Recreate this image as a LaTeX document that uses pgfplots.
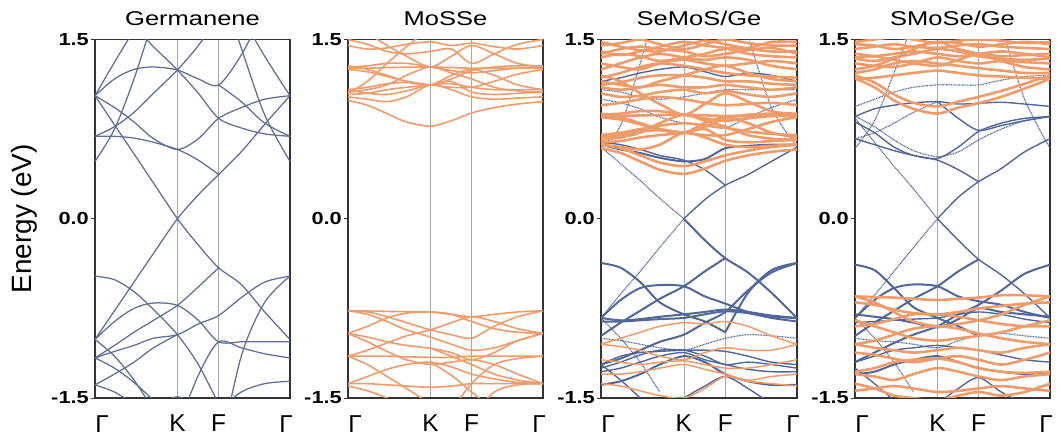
\documentclass[border=0pt]{standalone}
\usepackage{pgfplots}
\pgfplotsset{compat=1.18}
\usepackage{fontspec}
\setmainfont{Liberation Sans}
\newfontfamily\titlefont{Liberation Sans}[FakeStretch=1.28]
\newfontfamily\tickfont{Liberation Sans}[FakeStretch=1.25]
\definecolor{gblue}{RGB}{92,110,152}
\definecolor{hblue}{RGB}{80,103,155}
\definecolor{orng}{RGB}{240,155,106}

\ExplSyntaxOn
\clist_const:Nn \c_band_t_clist {0,0.1,0.2,0.3,0.4226,0.53,0.634,0.75,0.87,1}
\seq_new:N \l_band_t_seq
\seq_new:N \l_band_v_seq
\tl_new:N \l_band_coords_tl
\seq_set_from_clist:NN \l_band_t_seq \c_band_t_clist
\cs_new_protected:Npn \band_pair:nn #1#2 { \tl_put_right:Nn \l_band_coords_tl {(#1,#2)} }
\cs_new_protected:Npn \band_plot:nn #1#2 { \addplot[#1]~coordinates~{#2}; }
\cs_generate_variant:Nn \band_plot:nn {nV}
\NewDocumentCommand\band{mm}{
  \tl_clear:N \l_band_coords_tl
  \seq_set_from_clist:Nn \l_band_v_seq {#2}
  \seq_mapthread_function:NNN \l_band_t_seq \l_band_v_seq \band_pair:nn
  \band_plot:nV {#1} \l_band_coords_tl
}
\ExplSyntaxOff

\pgfplotsset{
  bandaxis/.style={
    anchor=south west, scale only axis, width=195bp, height=358.5bp,
    xmin=0, xmax=1, ymin=-1.5, ymax=1.5,
    axis line style={draw=black!80, line width=1.3pt},
    xtick={0,0.4226,0.634,1},
    xticklabels={\hspace*{14bp}Γ,K,F,Γ\hspace*{8bp}},
    xmajorgrids, major x grid style={line width=0.6pt, black!35},
    xtick style={draw=none},
    ytick={-1.5,0,1.5}, yticklabels={-1.5,0.0,1.5},
    ytick style={draw=black!80, line width=1pt},
    tick align=outside, tick pos=left, major tick length=4bp,
    yticklabel style={font=\tickfont\bfseries\fontsize{17.5}{19}\selectfont, inner sep=0pt, anchor=east, xshift=-2bp},
    xticklabel style={font=\fontsize{24.5}{26}\selectfont, inner sep=0pt, anchor=north, yshift=-13bp},
    title style={at={(axis description cs:0.5,1)}, anchor=base, yshift=8bp, font=\titlefont\fontsize{20}{22}\selectfont},
    ylabel style={at={(axis description cs:-0.364,0.5)}, anchor=center, font=\fontsize{28}{30}\selectfont},
    unbounded coords=jump, clip=true,
  },
  gb/.style={gblue, line width=1.25bp, smooth},
  ob/.style={orng, line width=1.6bp, smooth},
  bt/.style={hblue, line width=2bp, smooth},
  bm/.style={hblue, line width=1.4bp, smooth},
  bd/.style={hblue, line width=1.2bp, smooth, dash pattern=on 0.9bp off 0.7bp},
  ot/.style={orng, line width=2.6bp, smooth},
  om/.style={orng, line width=1.5bp, smooth},
}

\begin{document}
\begin{tikzpicture}
\useasboundingbox (0,0) rectangle (1060bp,443bp);
% ---------------- Germanene ----------------
\begin{axis}[bandaxis, at={(95bp,45bp)}, title={Germanene}, ylabel={Energy (eV)}]
\band{gb}{1.03,0.786,0.543,0.299,0,-0.22,-0.41,-0.55,-0.78,-1.01}
\band{gb}{-1.01,-0.77,-0.53,-0.29,0,0.2,0.37,0.56,0.79,1.03}
\band{gb}{0.69,0.69,0.675,0.64,0.58,0.49,0.37,nan,nan,nan}
\band{gb}{1.03,0.93,0.81,0.67,0.58,0.67,0.84,0.93,1.0,1.03}
\band{gb}{0.69,0.77,0.89,1.05,1.245,1.45,1.7,nan,nan,nan}
\band{gb}{1.03,1.17,1.25,1.27,1.245,1.17,1.12,1.37,1.75,nan}
\band{gb}{nan,nan,1.61,1.44,1.245,1.05,0.84,0.76,0.71,0.69}
\band{gb}{1.03,1.31,1.58,nan,nan,nan,nan,nan,nan,nan}
\band{gb}{0.48,0.75,1.17,1.68,nan,nan,nan,nan,nan,nan}
\band{gb}{nan,nan,nan,nan,nan,nan,2.0,1.43,0.87,0.48}
\band{gb}{nan,nan,nan,nan,nan,nan,1.12,0.98,0.8,0.69}
\band{gb}{nan,nan,nan,nan,nan,nan,nan,1.7,1.36,1.03}
\band{gb}{-0.48,-0.51,-0.61,-0.76,-0.97,-1.22,-1.55,nan,nan,nan}
\band{gb}{-1.01,-0.86,-0.75,-0.705,-0.725,-0.85,-1.03,-1.03,-1.03,-1.03}
\band{gb}{-1.165,-1.11,-1.06,-1.0,-0.97,-0.88,-0.81,-0.66,-0.53,-0.48}
\band{gb}{-1.165,-1.06,-0.95,-0.85,-0.725,-0.57,-0.41,nan,nan,nan}
\band{gb}{nan,nan,nan,nan,nan,nan,-2.0,-1.15,-0.7,-0.48}
\band{gb}{-1.39,-1.3,-1.2,-1.08,-0.97,nan,nan,nan,nan,nan}
\band{gb}{-1.165,-1.25,-1.37,-1.52,nan,nan,nan,nan,nan,nan}
\band{gb}{-1.39,-1.45,-1.55,nan,nan,nan,nan,nan,nan,nan}
\band{gb}{nan,nan,nan,nan,-1.75,-1.31,-1.03,-1.08,-1.13,-1.165}
\band{gb}{nan,nan,nan,nan,nan,nan,-1.6,-1.45,-1.38,-1.36}
\band{gb}{nan,-1.95,-1.75,-1.6,-1.49,-1.6,-1.8,nan,nan,nan}
\band{gb}{-1.01,-1.15,-1.35,-1.6,nan,nan,nan,nan,nan,nan}
\end{axis}
% ---------------- MoSSe ----------------
\begin{axis}[bandaxis, at={(348bp,45bp)}, title={MoSSe}]
\band{ob}{0.99,0.95,0.88,0.81,0.775,0.82,0.885,0.93,0.96,0.98}
\band{ob}{1.02,1.0,0.98,1.02,1.12,1.08,1.02,1.0,1.01,1.02}
\band{ob}{1.04,1.05,1.08,1.1,1.12,1.15,1.06,1.04,1.05,1.06}
\band{ob}{1.06,1.08,1.12,1.2,1.27,1.22,1.17,1.1,1.07,1.06}
\band{ob}{1.08,1.1,1.13,1.14,1.12,1.2,1.25,1.2,1.12,1.08}
\band{ob}{1.25,1.23,1.19,1.15,1.12,1.1,1.1,1.15,1.21,1.25}
\band{ob}{1.26,1.26,1.265,1.268,1.27,1.265,1.26,1.26,1.26,1.26}
\band{ob}{1.27,1.28,1.3,1.3,1.27,1.24,1.22,1.24,1.26,1.27}
\band{ob}{1.28,1.25,1.2,1.15,1.12,1.17,1.24,1.27,1.28,1.28}
\band{ob}{1.05,1.15,1.3,1.44,1.6,nan,nan,nan,nan,nan}
\band{ob}{1.45,1.42,1.43,1.46,1.48,1.45,1.47,1.44,1.42,1.45}
\band{ob}{1.6,1.55,1.45,1.36,1.27,1.36,1.45,1.38,1.3,1.27}
\band{ob}{1.5,1.46,1.4,1.38,1.4,1.42,1.3,1.38,1.46,1.5}
\band{ob}{1.08,1.05,1.04,1.07,1.12,1.13,1.1,1.08,1.08,1.08}
\band{ob}{-0.77,-0.772,-0.775,-0.778,-0.78,-0.8,-0.82,-0.8,-0.78,-0.77}
\band{ob}{-0.96,-0.9,-0.83,-0.79,-0.78,-0.8,-0.86,-0.92,-0.95,-0.96}
\band{ob}{-0.77,-0.8,-0.86,-0.93,-0.99,-1.05,-1.1,-1.08,-1.02,-0.96}
\band{ob}{-0.96,-0.99,-1.03,-1.06,-1.084,-1.12,-1.18,-1.12,-1.02,-0.96}
\band{ob}{-0.96,-1.03,-1.11,-1.18,-1.22,-1.2,-1.18,-1.22,-1.3,-1.38}
\band{ob}{-1.15,-1.15,-1.15,-1.155,-1.16,-1.16,-1.15,-1.15,-1.15,-1.15}
\band{ob}{-1.15,-1.1,-1.04,-0.98,-0.93,-0.87,-0.82,-0.86,-0.92,-0.96}
\band{ob}{-1.38,-1.32,-1.26,-1.22,-1.2,-1.24,-1.3,-1.34,-1.37,-1.38}
\band{ob}{-1.38,-1.38,-1.39,-1.4,-1.41,-1.4,-1.38,-1.38,-1.38,-1.38}
\band{ob}{-1.4,-1.44,-1.5,-1.58,nan,nan,nan,nan,nan,nan}
\band{ob}{nan,nan,nan,nan,-1.2,-1.31,-1.45,-1.6,nan,nan}
\band{ob}{-1.15,-1.22,-1.32,-1.42,-1.55,nan,nan,nan,nan,nan}
\band{ob}{nan,nan,nan,nan,nan,-1.6,-1.38,-1.22,-1.17,-1.15}
\band{ob}{nan,nan,nan,nan,nan,nan,-1.65,-1.45,-1.39,-1.38}
\band{ob}{nan,nan,nan,nan,-1.084,-1.15,-1.22,-1.3,-1.35,-1.38}
\band{ob}{-0.77,-0.78,-0.82,-0.87,-0.93,-0.97,-1.0,-0.9,-0.82,-0.77}
\end{axis}
% ---------------- SeMoS/Ge ----------------
\begin{axis}[bandaxis, at={(601bp,45bp)}, width=196bp, title={SeMoS/Ge}]
% blue conduction
\band{bd}{0.6,0.46,0.32,0.17,0,nan,nan,nan,nan,nan}
\band{bt}{nan,nan,nan,nan,0,-0.18,-0.33,-0.45,-0.62,-0.83}
\band{bd}{-0.83,-0.63,-0.44,-0.24,0,nan,nan,nan,nan,nan}
\band{bm}{nan,nan,nan,nan,0,0.16,0.28,0.37,0.48,0.6}
\band{bt}{0.62,0.58,0.55,0.51,0.48,0.5,0.59,0.61,0.62,0.62}
\band{bm}{0.64,0.62,0.58,0.53,0.49,0.41,0.28,nan,nan,nan}
\band{bd}{0.6,0.78,1.3,1.9,nan,nan,nan,nan,nan,nan}
\band{bd}{nan,nan,nan,nan,nan,nan,2.1,1.53,0.93,0.6}
\band{bm}{1.15,1.18,1.22,1.25,1.27,1.23,1.19,1.22,1.2,1.15}
\band{bd}{1.0,0.97,0.92,0.85,0.8,0.78,0.76,0.85,0.93,1.0}
\band{bd}{1.08,1.06,1.02,1.0,1.02,1.05,1.08,1.08,1.08,1.08}
% blue valence
\band{bt}{-0.37,-0.41,-0.53,-0.7,-0.8,-0.86,-0.95,nan,nan,nan}
\band{bt}{-1.22,-1.17,-1.1,-1.03,-0.97,-0.87,-0.78,-0.6,-0.45,-0.37}
\band{bt}{-0.83,-0.68,-0.58,-0.555,-0.565,-0.65,-0.71,-0.78,-0.82,-0.83}
\band{bt}{-0.98,-0.87,-0.77,-0.67,-0.565,-0.44,-0.33,nan,nan,nan}
\band{bt}{-0.83,-0.85,-0.84,-0.82,-0.8,-0.78,-0.76,-0.78,-0.81,-0.83}
\band{bt}{-0.86,-0.86,-0.85,-0.84,-0.83,-0.8,-0.775,-0.79,-0.83,-0.86}
\band{bm}{-1.22,-1.15,-1.12,-1.11,-1.1,-1.1,-1.11,-1.15,-1.2,-1.22}
\band{bm}{-1.28,-1.25,-1.2,-1.15,-1.12,-1.18,-1.22,-1.26,-1.28,-1.28}
\band{bt}{-1.39,-1.36,-1.3,-1.22,-1.15,-1.2,-1.3,-1.36,-1.39,-1.39}
\band{bm}{nan,nan,nan,nan,-1.5,-1.4,-1.32,-1.42,-1.55,nan}
\band{bd}{-0.83,-1.0,-1.2,-1.45,nan,nan,nan,nan,nan,nan}
\band{bm}{-1.22,-1.35,-1.5,nan,nan,nan,nan,nan,nan,nan}
\band{bt}{nan,nan,nan,nan,nan,nan,-0.95,-0.62,-0.43,-0.37}
\band{bd}{-1.0,-1.02,-1.05,-1.08,-1.1,-1.05,-1.0,-0.97,-0.98,-1.0}
\band{bm}{-1.25,-1.2,-1.14,-1.1,-1.1,-1.15,-1.22,-1.2,-1.22,-1.25}
% orange conduction
\band{ot}{0.59,0.55,0.48,0.41,0.375,0.42,0.485,0.53,0.56,0.58}
\band{ot}{0.62,0.59,0.53,0.47,0.44,0.48,0.53,0.57,0.6,0.62}
\band{ot}{0.62,0.6,0.58,0.62,0.72,0.68,0.62,0.6,0.61,0.62}
\band{ot}{0.64,0.65,0.68,0.7,0.72,0.75,0.66,0.64,0.65,0.66}
\band{ot}{0.66,0.68,0.72,0.8,0.87,0.82,0.77,0.7,0.67,0.66}
\band{ot}{0.68,0.7,0.73,0.74,0.72,0.8,0.85,0.8,0.72,0.68}
\band{ot}{0.85,0.83,0.79,0.75,0.72,0.7,0.7,0.75,0.81,0.85}
\band{ot}{0.86,0.86,0.865,0.868,0.87,0.865,0.86,0.86,0.86,0.86}
\band{ot}{0.87,0.88,0.9,0.9,0.87,0.84,0.82,0.84,0.86,0.87}
\band{ot}{0.88,0.85,0.8,0.75,0.72,0.77,0.84,0.87,0.88,0.88}
\band{ot}{1.05,1.02,1.03,1.06,1.08,1.05,1.07,1.04,1.02,1.05}
\band{ot}{1.2,1.15,1.05,0.96,0.87,0.96,1.05,0.98,0.9,0.87}
\band{ot}{1.12,1.14,1.18,1.2,1.2,1.18,1.15,1.15,1.13,1.12}
\band{ot}{1.15,1.12,1.1,1.15,1.2,1.25,1.28,1.22,1.17,1.15}
\band{ot}{1.3,1.27,1.25,1.3,1.33,1.3,1.28,1.3,1.32,1.3}
\band{ot}{1.35,1.38,1.36,1.32,1.35,1.38,1.42,1.38,1.36,1.35}
\band{ot}{1.4,1.37,1.4,1.44,1.48,1.45,1.43,1.42,1.4,1.4}
\band{ot}{1.45,1.47,1.5,1.46,1.42,1.46,1.5,1.47,1.45,1.45}
\band{ot}{1.25,1.3,1.35,1.38,1.35,1.33,1.35,1.33,1.28,1.25}
\band{ot}{1.1,1.08,1.1,1.12,1.1,1.1,1.12,1.1,1.08,1.1}
\band{ot}{1.18,1.22,1.27,1.3,1.28,1.25,1.22,1.2,1.19,1.18}
\band{ot}{1.38,1.42,1.44,1.42,1.4,1.36,1.38,1.41,1.43,1.38}
\band{ot}{1.48,1.44,1.41,1.4,1.45,1.49,1.46,1.43,1.48,1.48}
\band{ot}{0.95,0.97,1.0,1.02,1.0,0.97,0.95,0.96,0.97,0.95}
\band{ot}{0.7,0.72,0.75,0.78,0.8,0.78,0.76,0.73,0.71,0.7}
% orange valence
\band{om}{-1.05,-1.0,-0.95,-0.9,-0.87,-0.88,-0.86,-0.9,-0.98,-1.05}
\band{om}{-1.05,-1.07,-1.1,-1.15,-1.18,-1.12,-1.08,-1.1,-1.1,-1.05}
\band{om}{-1.18,-1.2,-1.22,-1.2,-1.19,-1.22,-1.25,-1.25,-1.22,-1.18}
\band{om}{-1.38,-1.4,-1.44,-1.48,-1.5,-1.42,-1.32,-1.36,-1.38,-1.4}
\band{om}{-1.3,-1.3,-1.28,-1.25,-1.22,-1.26,-1.3,-1.35,-1.32,-1.3}
\end{axis}
% ---------------- SMoSe/Ge ----------------
\begin{axis}[bandaxis, at={(855bp,45bp)}, title={SMoSe/Ge}]
% blue conduction
\band{bd}{0.84,0.64,0.44,0.25,0,nan,nan,nan,nan,nan}
\band{bm}{nan,nan,nan,nan,0,0.18,0.31,0.42,0.56,0.67}
\band{bm}{0.81,0.72,0.6,0.53,0.505,0.6,0.73,0.8,0.84,0.855}
\band{bm}{0.67,0.62,0.57,0.53,0.49,0.41,0.31,nan,nan,nan}
\band{bd}{0.86,0.77,0.66,0.57,0.52,0.56,0.66,0.75,0.82,0.86}
\band{bm}{0.855,0.92,0.95,0.97,0.98,0.96,0.966,0.975,0.96,0.94}
\band{bm}{nan,nan,nan,nan,0.98,0.84,0.74,0.78,0.82,0.855}
\band{bd}{0.67,0.72,0.8,0.89,0.98,nan,nan,nan,nan,nan}
\band{bd}{0.94,1.0,1.06,1.1,1.12,1.12,1.12,1.16,1.19,1.2}
\band{bd}{0.59,0.82,1.22,1.65,nan,nan,nan,nan,nan,nan}
\band{bd}{nan,nan,nan,nan,nan,nan,2.1,1.6,1.0,0.59}
% blue valence
\band{bd}{-0.83,-0.64,-0.44,-0.24,0,nan,nan,nan,nan,nan}
\band{bm}{nan,nan,nan,nan,0,-0.18,-0.34,-0.47,-0.63,-0.83}
\band{bt}{-0.385,-0.43,-0.58,-0.74,-0.83,-0.9,-0.98,nan,nan,nan}
\band{bt}{-1.2,-1.12,-1.04,-0.97,-0.9,-0.8,-0.72,-0.6,-0.46,-0.385}
\band{bt}{-0.83,-0.68,-0.58,-0.55,-0.565,-0.65,-0.69,-0.72,-0.78,-0.83}
\band{bt}{-0.98,-0.87,-0.77,-0.67,-0.565,-0.44,-0.34,nan,nan,nan}
\band{bt}{-0.8,-0.82,-0.84,-0.87,-0.91,-0.84,-0.75,-0.78,-0.8,-0.82}
\band{bm}{-0.87,-0.86,-0.85,-0.84,-0.83,-0.8,-0.78,-0.8,-0.84,-0.87}
\band{bm}{-1.2,-1.15,-1.1,-1.08,-1.06,-1.08,-1.1,-1.14,-1.18,-1.2}
\band{bt}{-1.3,-1.28,-1.22,-1.18,-1.15,-1.2,-1.25,-1.28,-1.3,-1.3}
\band{bd}{-0.83,-1.0,-1.2,-1.45,nan,nan,nan,nan,nan,nan}
\band{bm}{-1.25,-1.38,-1.52,nan,nan,nan,nan,nan,nan,nan}
\band{bm}{nan,nan,nan,nan,-1.55,-1.42,-1.33,-1.45,-1.55,nan}
\band{bd}{-1.0,-1.02,-1.03,-1.05,-1.08,-1.02,-0.98,-0.96,-0.98,-1.0}
% orange conduction
\band{ot}{1.175,1.1,0.99,0.92,0.88,0.93,0.966,1.02,1.09,1.17}
\band{ot}{1.2,1.14,1.04,0.97,0.94,0.98,1.02,1.07,1.13,1.2}
\band{ot}{1.17,1.18,1.2,1.22,1.24,1.22,1.2,1.19,1.18,1.17}
\band{ot}{1.22,1.25,1.3,1.32,1.3,1.28,1.26,1.24,1.22,1.22}
\band{ot}{1.3,1.28,1.27,1.3,1.35,1.32,1.3,1.32,1.31,1.3}
\band{ot}{1.35,1.36,1.38,1.4,1.38,1.36,1.38,1.4,1.38,1.35}
\band{ot}{1.38,1.36,1.33,1.3,1.28,1.33,1.38,1.36,1.37,1.38}
\band{ot}{1.42,1.44,1.46,1.44,1.43,1.45,1.46,1.44,1.43,1.42}
\band{ot}{1.46,1.45,1.42,1.44,1.48,1.47,1.44,1.46,1.48,1.46}
\band{ot}{1.48,1.5,1.52,1.5,1.47,1.49,1.5,1.49,1.47,1.48}
\band{ot}{1.34,1.32,1.35,1.38,1.42,1.4,1.36,1.34,1.33,1.34}
\band{ot}{1.25,1.28,1.34,1.42,1.48,1.42,1.38,1.32,1.27,1.25}
% orange valence
\band{ot}{-0.65,-0.655,-0.66,-0.67,-0.68,-0.67,-0.66,-0.64,-0.64,-0.65}
\band{ot}{-0.7,-0.72,-0.76,-0.79,-0.8,-0.78,-0.75,-0.73,-0.71,-0.7}
\band{ot}{-0.65,-0.7,-0.78,-0.86,-0.9,-0.88,-0.85,-0.8,-0.72,-0.65}
\band{ot}{-0.9,-0.88,-0.84,-0.8,-0.8,-0.82,-0.85,-0.88,-0.9,-0.9}
\band{ot}{-1.05,-1.02,-0.97,-0.92,-0.9,-0.92,-0.96,-1.0,-1.03,-1.05}
\band{ot}{-1.05,-1.08,-1.1,-1.12,-1.1,-1.08,-1.1,-1.12,-1.08,-1.05}
\band{ot}{-1.12,-1.14,-1.17,-1.2,-1.17,-1.15,-1.18,-1.22,-1.18,-1.12}
\band{ot}{-1.28,-1.25,-1.2,-1.18,-1.17,-1.2,-1.25,-1.28,-1.29,-1.28}
\band{ot}{-1.3,-1.32,-1.35,-1.3,-1.25,-1.28,-1.32,-1.35,-1.32,-1.3}
\band{ot}{-1.44,-1.42,-1.4,-1.42,-1.45,-1.44,-1.42,-1.4,-1.42,-1.44}
\band{ot}{-1.38,-1.42,-1.48,-1.5,-1.52,-1.48,-1.45,-1.48,-1.45,-1.38}
\band{ot}{-0.85,-0.9,-0.95,-1.0,-1.02,-1.0,-0.98,-0.95,-0.9,-0.85}
\end{axis}
\end{tikzpicture}
\end{document}
